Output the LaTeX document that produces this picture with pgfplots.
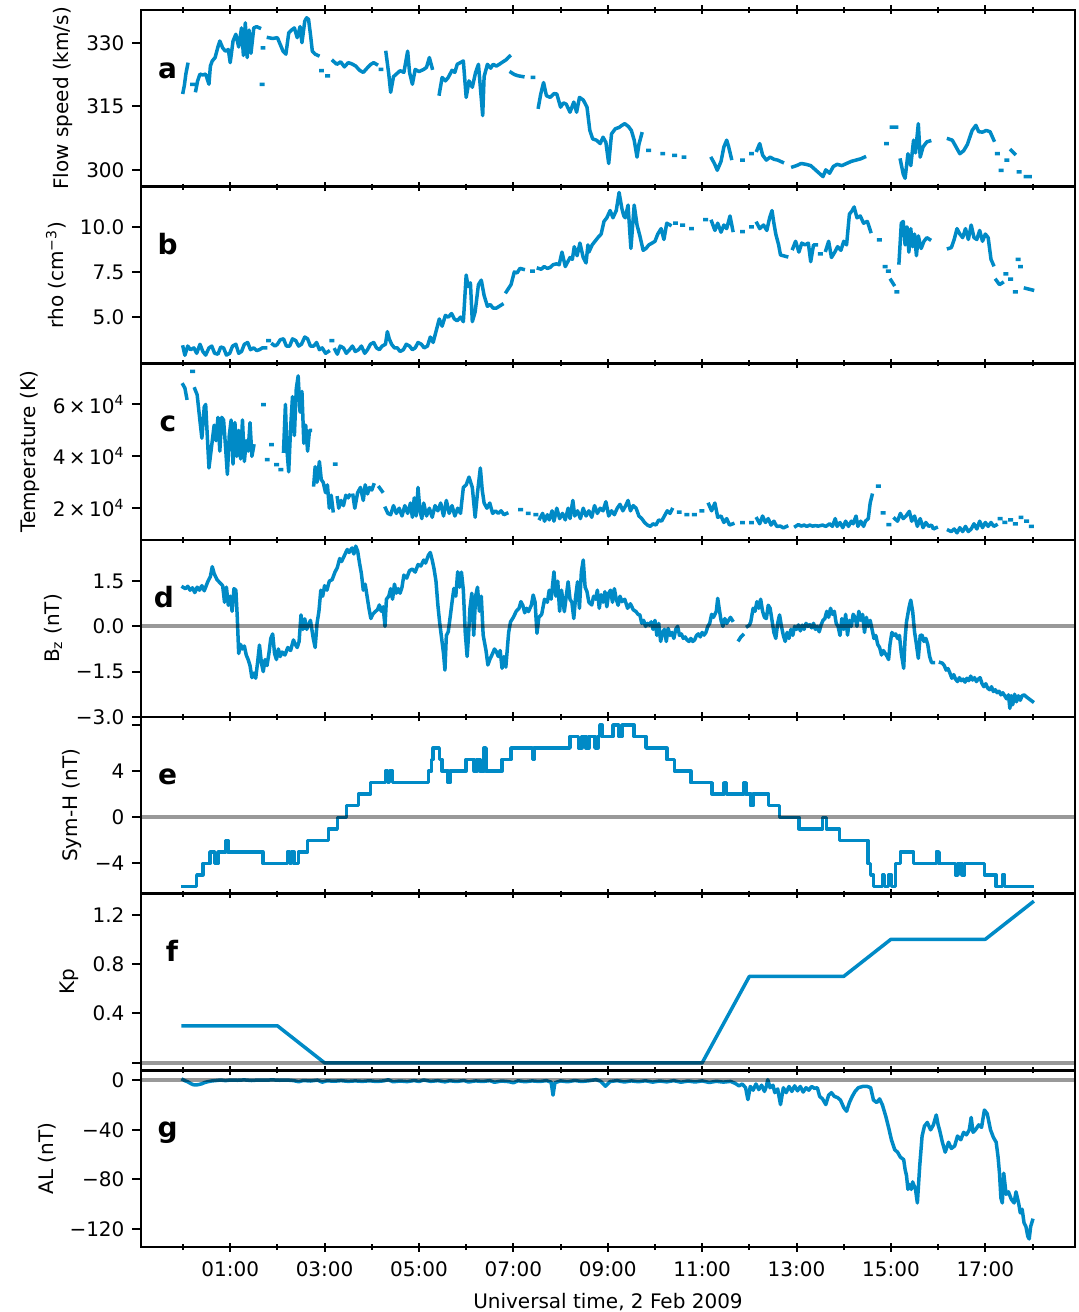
\documentclass[border=0pt]{standalone}
\usepackage{fontspec}
\setmainfont{DejaVu Sans}
\usepackage{pgfplots}
\pgfplotsset{compat=1.18}
\definecolor{lineblue}{RGB}{0,138,198}
\tikzset{letter/.style={font=\fontsize{14}{16}\selectfont\bfseries, anchor=base, inner sep=0pt}}
\pgfplotsset{
 panel/.style={
  scale only axis, width=467pt, height=88.357pt, anchor=south west,
  xmin=-0.89, xmax=18.9,
  xtick={1,3,...,17}, minor xtick={0,2,...,18},
  xticklabels={},
  xtick pos=both, ytick pos=left,
  tick align=center,
  major tick length=4.5pt, minor tick length=3pt,
  tick style={black, line width=1pt},
  y tick style={xshift=-2.25pt},
  yticklabel style={xshift=-2.5pt},
  xticklabel style={yshift=-1.5pt},
  axis line style={line width=1.3pt},
  tick label style={font=\fontsize{10}{12}\selectfont},
  label style={font=\fontsize{10}{12}\selectfont},
  /pgf/number format/assume math mode=true,
  unbounded coords=jump,
 },
 bl/.style={lineblue, line width=1.75pt, line join=round, line cap=rect, mark=none},
 zeroline/.style={black, opacity=0.4, line width=2pt, line cap=butt, mark=none},
}
\begin{document}
\begin{tikzpicture}
\useasboundingbox (0,0) rectangle (539.5pt,656pt);
% ---------------- a
\begin{axis}[panel, at={(70.5pt,562.643pt)}, ymin=296.02, ymax=337.73,
  ytick={300,315,330}, yticklabels={300,315,330}, ylabel={Flow speed (km/s)}]
\addplot[bl] coordinates {(0.00,318.3)(0.03,320.0)(0.06,322.6)(0.10,324.9)(0.11,nan)
(0.19,320.2)(0.22,320.2)(0.23,nan)
(0.27,318.7)(0.31,321.0)(0.36,322.6)(0.42,322.4)(0.48,322.6)(0.55,320.2)(0.58,324.5)(0.62,325.7)(0.68,326.5)(0.74,329.0)(0.78,330.4)(0.84,328.8)(0.90,328.0)(0.96,328.4)(1.00,325.3)(1.06,330.4)(1.12,332.0)(1.18,329.0)(1.24,333.5)(1.28,327.0)(1.32,334.7)(1.36,326.5)(1.40,333.0)(1.44,327.5)(1.50,333.5)(1.56,333.8)(1.62,333.5)(1.63,nan)
(1.68,328.8)(1.71,328.8)(1.72,nan)
(1.66,320.2)(1.69,320.2)(1.70,nan)
(1.81,331.2)(1.90,331.0)(2.00,331.2)(2.06,329.6)(2.12,328.0)(2.18,327.3)(2.24,332.3)(2.30,333.0)(2.36,333.5)(2.42,331.2)(2.48,333.8)(2.52,330.0)(2.58,335.1)(2.62,335.9)(2.66,335.5)(2.70,332.0)(2.74,328.0)(2.80,327.3)(2.86,327.0)(2.87,nan)
(2.92,323.4)(2.95,323.4)(2.96,nan)
(3.05,322.2)(3.08,322.2)(3.09,nan)
(3.18,325.7)(3.26,324.9)(3.34,325.5)(3.42,324.3)(3.50,325.3)(3.58,325.0)(3.66,324.5)(3.74,323.5)(3.82,323.0)(3.90,324.0)(3.98,324.9)(4.04,325.3)(4.10,324.9)(4.11,nan)
(4.18,323.7)(4.21,323.7)(4.22,nan)
(4.30,327.7)(4.36,322.6)(4.40,318.3)(4.46,322.0)(4.52,322.6)(4.60,323.4)(4.68,323.0)(4.76,328.0)(4.80,323.0)(4.86,320.2)(4.92,323.7)(5.00,323.2)(5.10,323.7)(5.16,324.2)(5.22,326.5)(5.28,324.0)(5.29,nan)
(5.43,317.9)(5.49,321.8)(5.56,321.0)(5.62,321.8)(5.70,323.5)(5.76,323.0)(5.81,324.9)(5.94,325.7)(6.00,317.1)(6.06,321.0)(6.13,319.5)(6.20,323.0)(6.26,324.9)(6.35,312.8)(6.38,322.0)(6.45,324.9)(6.52,324.0)(6.57,324.9)(6.64,324.5)(6.70,324.9)(6.78,325.5)(6.85,326.0)(6.89,326.5)(6.92,326.8)(6.93,nan)
(6.95,323.0)(7.02,322.5)(7.10,322.2)(7.20,322.0)(7.21,nan)
(7.40,321.8)(7.43,321.8)(7.44,nan)
(7.53,314.8)(7.58,317.9)(7.64,320.6)(7.70,317.5)(7.78,317.1)(7.86,318.0)(7.92,317.9)(8.00,314.8)(8.06,315.8)(8.12,315.5)(8.20,313.6)(8.28,316.0)(8.34,313.6)(8.40,317.1)(8.48,316.5)(8.56,314.8)(8.62,309.3)(8.68,307.3)(8.76,307.0)(8.84,306.2)(8.90,307.7)(8.96,306.5)(9.02,301.5)(9.08,308.5)(9.16,309.7)(9.24,310.0)(9.30,310.5)(9.36,310.9)(9.44,310.2)(9.50,309.3)(9.56,307.0)(9.62,303.0)(9.66,306.0)(9.72,308.5)(9.73,nan)
(9.85,304.6)(9.88,304.6)(9.89,nan)
(10.15,303.8)(10.18,303.8)(10.19,nan)
(10.40,303.4)(10.43,303.4)(10.44,nan)
(10.60,303.0)(10.63,303.0)(10.64,nan)
(11.20,302.7)(11.26,301.5)(11.32,299.9)(11.40,302.0)(11.46,305.4)(11.52,307.0)(11.56,305.5)(11.62,302.7)(11.63,nan)
(11.84,302.3)(11.87,302.3)(11.88,nan)
(12.03,303.8)(12.06,303.8)(12.07,nan)
(12.16,304.6)(12.22,306.2)(12.28,303.5)(12.36,302.3)(12.44,303.0)(12.52,302.5)(12.60,302.3)(12.70,301.8)(12.71,nan)
(12.92,300.7)(13.00,301.0)(13.10,301.5)(13.20,301.3)(13.30,301.0)(13.40,300.0)(13.50,299.0)(13.56,298.4)(13.62,300.0)(13.70,299.2)(13.78,300.8)(13.86,301.3)(13.96,301.0)(14.06,301.5)(14.16,302.0)(14.26,302.3)(14.36,302.6)(14.44,303.0)(14.45,nan)
(14.89,306.2)(14.92,306.2)(14.93,nan)
(15.01,310.1)(15.12,310.1)(15.13,nan)
(15.20,302.3)(15.26,299.0)(15.30,298.0)(15.36,303.8)(15.42,301.0)(15.48,307.0)(15.52,304.0)(15.58,310.9)(15.62,303.0)(15.68,305.4)(15.76,306.6)(15.82,306.8)(15.83,nan)
(16.22,307.3)(16.30,307.0)(16.38,305.4)(16.46,303.8)(16.54,304.5)(16.62,306.0)(16.72,309.3)(16.80,310.5)(16.86,309.0)(16.94,308.9)(17.02,309.3)(17.10,309.0)(17.18,307.0)(17.19,nan)
(17.24,303.8)(17.27,303.8)(17.28,nan)
(17.32,299.9)(17.35,299.9)(17.36,nan)
(17.44,302.3)(17.47,302.3)(17.48,nan)
(17.55,304.6)(17.62,303.8)(17.63,nan)
(17.70,299.5)(17.73,299.5)(17.74,nan)
(17.85,298.4)(17.95,298.4)};
\node[letter] at (axis description cs:0.0284,0.615) {a};
\end{axis}
% ---------------- b
\begin{axis}[panel, at={(70.5pt,474.286pt)}, ymin=2.44, ymax=12.22,
  ytick={5,7.5,10}, yticklabels={5.0,7.5,10.0}, ylabel={rho (cm\textsuperscript{−3})}]
\addplot[bl] coordinates {(0.00,3.35)(0.04,2.89)(0.10,3.4)(0.16,3.2)(0.23,3.3)(0.29,3.0)(0.36,3.5)(0.42,3.1)(0.48,2.9)(0.55,3.3)(0.61,3.4)(0.67,3.0)(0.74,2.95)(0.80,3.35)(0.86,3.3)(0.92,2.9)(0.99,3.0)(1.05,3.4)(1.12,3.5)(1.18,3.0)(1.24,3.1)(1.30,3.5)(1.37,3.6)(1.43,3.2)(1.50,3.3)(1.56,3.15)(1.62,3.2)(1.68,3.3)(1.75,3.3)(1.76,nan)
(1.80,3.7)(1.83,3.7)(1.84,nan)
(1.90,3.5)(1.95,3.4)(2.00,3.5)(2.06,3.75)(2.13,3.8)(2.19,3.4)(2.26,3.4)(2.32,3.8)(2.39,3.7)(2.45,3.4)(2.51,3.5)(2.58,3.9)(2.64,3.8)(2.70,3.4)(2.77,3.4)(2.83,3.6)(2.89,3.2)(2.95,3.3)(3.02,3.0)(3.08,3.1)(3.09,nan)
(3.14,3.7)(3.17,3.7)(3.18,nan)
(3.22,3.2)(3.27,2.95)(3.33,3.4)(3.40,3.3)(3.46,3.0)(3.53,3.2)(3.59,3.4)(3.65,3.1)(3.72,3.2)(3.78,3.4)(3.85,3.0)(3.91,3.2)(3.97,3.5)(4.04,3.6)(4.10,3.3)(4.16,3.2)(4.22,3.4)(4.29,3.5)(4.33,4.2)(4.37,3.8)(4.42,3.5)(4.48,3.3)(4.54,3.3)(4.60,3.1)(4.67,3.2)(4.73,3.5)(4.80,3.4)(4.86,3.2)(4.92,3.3)(4.98,3.6)(5.05,3.5)(5.11,3.3)(5.18,3.4)(5.24,3.9)(5.30,3.6)(5.37,4.3)(5.43,4.9)(5.49,4.5)(5.56,5.1)(5.62,5.0)(5.69,5.2)(5.75,4.9)(5.81,4.8)(5.88,5.0)(5.94,4.75)(6.00,7.33)(6.04,6.7)(6.09,6.9)(6.13,4.75)(6.19,5.3)(6.26,6.8)(6.32,7.05)(6.38,6.2)(6.45,5.6)(6.51,5.7)(6.57,5.5)(6.64,5.5)(6.70,5.6)(6.76,5.7)(6.77,nan)
(6.85,6.4)(6.90,6.6)(6.95,6.8)(7.02,7.5)(7.08,7.45)(7.14,7.7)(7.21,7.65)(7.22,nan)
(7.39,7.55)(7.42,7.55)(7.43,nan)
(7.53,7.7)(7.59,7.65)(7.65,7.8)(7.72,7.7)(7.78,7.75)(7.84,7.9)(7.91,7.95)(7.97,7.9)(8.03,8.6)(8.10,7.8)(8.16,8.1)(8.20,8.3)(8.25,8.2)(8.29,8.9)(8.35,8.4)(8.41,9.1)(8.48,8.3)(8.54,8.0)(8.58,9.0)(8.60,8.6)(8.67,9.0)(8.73,9.2)(8.79,9.4)(8.86,9.6)(8.92,10.3)(8.98,10.5)(9.05,10.9)(9.11,10.5)(9.18,10.9)(9.24,11.9)(9.30,11.0)(9.34,10.6)(9.37,10.5)(9.43,11.2)(9.49,8.8)(9.56,11.2)(9.62,10.1)(9.68,9.5)(9.75,8.7)(9.81,8.8)(9.87,9.0)(9.94,9.1)(10.00,9.2)(10.06,9.6)(10.13,9.9)(10.19,9.3)(10.25,10.2)(10.32,10.1)(10.33,nan)
(10.42,10.2)(10.45,10.2)(10.46,nan)
(10.57,10.1)(10.60,10.1)(10.61,nan)
(10.76,9.9)(10.79,9.9)(10.80,nan)
(11.06,10.4)(11.09,10.4)(11.10,nan)
(11.20,10.3)(11.27,9.8)(11.33,10.2)(11.40,9.7)(11.46,10.1)(11.52,9.9)(11.59,10.6)(11.65,9.8)(11.66,nan)
(11.84,9.74)(11.87,9.74)(11.88,nan)
(12.03,10.0)(12.06,10.0)(12.07,nan)
(12.16,10.2)(12.22,9.9)(12.30,10.1)(12.37,9.8)(12.43,10.5)(12.48,10.9)(12.52,10.2)(12.56,9.6)(12.62,9.0)(12.66,8.44)(12.79,8.35)(12.80,nan)
(12.92,8.8)(12.98,9.2)(13.05,8.6)(13.11,9.1)(13.18,9.0)(13.25,9.1)(13.30,8.07)(13.36,9.0)(13.42,9.0)(13.43,nan)
(13.49,8.5)(13.52,8.5)(13.53,nan)
(13.62,8.7)(13.68,9.2)(13.74,8.3)(13.81,8.6)(13.87,8.9)(13.94,8.7)(14.00,9.2)(14.06,9.0)(14.12,10.7)(14.18,10.9)(14.22,11.1)(14.28,10.5)(14.35,10.6)(14.42,10.2)(14.50,10.3)(14.57,9.74)(14.58,nan)
(14.74,9.28)(14.77,9.28)(14.78,nan)
(14.86,7.8)(14.89,7.8)(14.90,nan)
(14.93,7.55)(14.96,7.55)(14.97,nan)
(15.00,7.05)(15.06,6.8)(15.07,nan)
(15.11,6.4)(15.14,6.4)(15.15,nan)
(15.17,8.0)(15.22,10.2)(15.26,10.3)(15.30,9.0)(15.34,10.0)(15.38,8.6)(15.42,9.9)(15.46,8.9)(15.50,9.6)(15.54,8.4)(15.58,9.5)(15.64,8.8)(15.70,9.2)(15.76,9.4)(15.82,9.3)(15.83,nan)
(16.22,8.8)(16.28,8.85)(16.34,9.3)(16.40,9.9)(16.46,9.6)(16.52,9.4)(16.58,9.9)(16.64,9.3)(16.70,10.1)(16.76,9.4)(16.82,9.3)(16.88,9.8)(16.94,9.2)(17.00,9.6)(17.06,9.4)(17.12,8.2)(17.17,7.9)(17.18,nan)
(17.23,7.05)(17.30,6.8)(17.36,6.9)(17.37,nan)
(17.42,7.4)(17.45,7.4)(17.46,nan)
(17.52,7.1)(17.55,7.1)(17.56,nan)
(17.62,6.4)(17.65,6.4)(17.66,nan)
(17.68,8.2)(17.71,8.2)(17.72,nan)
(17.73,7.8)(17.76,7.8)(17.77,nan)
(17.85,6.6)(18.00,6.5)};
\node[letter] at (axis description cs:0.0284,0.615) {b};
\end{axis}
% ---------------- c (values in units of 10^4 K)
\begin{axis}[panel, at={(70.5pt,385.929pt)}, ymin=0.77, ymax=7.58,
  ytick={2,4,6}, yticklabels={2\,×\,10\textsuperscript{4},4\,×\,10\textsuperscript{4},6\,×\,10\textsuperscript{4}}, ylabel={Temperature (K)}]
\addplot[bl] coordinates {(0.00,6.76)(0.04,6.63)(0.08,6.24)(0.09,nan)
(0.19,7.27)(0.22,7.27)(0.23,nan)
(0.25,6.6)(0.30,6.37)(0.36,5.35)(0.40,4.7)(0.45,5.9)(0.48,6.0)(0.55,3.55)(0.61,4.45)(0.66,5.2)(0.70,4.6)(0.74,5.5)(0.78,4.2)(0.82,5.5)(0.86,5.4)(0.90,4.4)(0.94,3.3)(0.98,4.8)(1.02,5.4)(1.06,3.7)(1.10,5.3)(1.14,4.0)(1.18,5.0)(1.22,3.9)(1.26,5.4)(1.30,3.8)(1.34,4.6)(1.38,4.2)(1.42,5.3)(1.46,4.0)(1.50,4.4)(1.51,nan)
(1.69,5.99)(1.72,5.99)(1.73,nan)
(1.77,3.87)(1.80,3.87)(1.81,nan)
(1.86,4.45)(1.89,4.45)(1.90,nan)
(1.97,3.68)(2.00,3.68)(2.01,nan)
(2.06,3.49)(2.09,3.49)(2.10,nan)
(2.13,4.2)(2.17,6.0)(2.20,4.3)(2.24,3.4)(2.28,5.1)(2.32,6.3)(2.36,4.8)(2.40,6.6)(2.44,7.1)(2.48,5.7)(2.52,6.5)(2.56,4.5)(2.60,5.2)(2.64,4.2)(2.68,5.0)(2.70,5.0)(2.71,nan)
(2.77,2.9)(2.80,3.6)(2.84,3.0)(2.89,3.8)(2.93,3.1)(2.97,3.0)(3.02,2.6)(3.06,2.9)(3.10,2.0)(3.14,2.5)(3.18,1.9)(3.19,nan)
(3.21,3.7)(3.24,3.7)(3.25,nan)
(3.27,2.4)(3.30,2.0)(3.35,2.3)(3.40,2.1)(3.45,2.5)(3.50,2.4)(3.53,2.5)(3.54,nan)
(3.60,2.5)(3.64,2.0)(3.70,2.6)(3.76,2.8)(3.82,2.3)(3.86,2.9)(3.91,2.55)(3.95,2.8)(4.00,2.7)(4.04,2.9)(4.05,nan)
(4.16,2.8)(4.22,2.65)(4.23,nan)
(4.29,2.0)(4.34,1.8)(4.40,1.75)(4.46,2.1)(4.52,1.8)(4.58,2.0)(4.64,1.7)(4.70,2.1)(4.76,1.8)(4.82,2.2)(4.86,1.65)(4.90,2.4)(4.94,1.7)(4.98,2.8)(5.02,1.9)(5.06,1.6)(5.10,2.2)(5.16,1.7)(5.22,2.0)(5.28,1.65)(5.34,2.1)(5.40,1.9)(5.46,2.2)(5.52,1.7)(5.58,2.3)(5.64,1.8)(5.70,2.1)(5.76,1.7)(5.82,2.0)(5.88,1.8)(5.94,2.8)(6.00,2.9)(6.06,3.2)(6.13,2.8)(6.19,1.65)(6.24,2.6)(6.30,3.55)(6.34,2.7)(6.38,2.2)(6.44,2.0)(6.50,2.2)(6.56,1.8)(6.62,1.9)(6.68,1.8)(6.74,1.9)(6.80,1.75)(6.86,1.8)(6.87,nan)
(7.14,1.95)(7.17,1.95)(7.18,nan)
(7.30,1.8)(7.33,1.8)(7.34,nan)
(7.46,1.75)(7.49,1.75)(7.50,nan)
(7.56,1.6)(7.62,1.8)(7.66,1.5)(7.72,1.75)(7.76,1.55)(7.82,1.9)(7.86,1.5)(7.92,2.0)(7.98,1.6)(8.04,1.8)(8.10,1.55)(8.16,2.0)(8.20,1.6)(8.26,2.3)(8.30,1.7)(8.36,1.9)(8.42,1.6)(8.48,2.0)(8.54,1.7)(8.60,1.9)(8.66,1.65)(8.72,2.1)(8.78,1.8)(8.84,2.0)(8.90,1.9)(8.96,2.25)(9.02,1.7)(9.08,1.9)(9.14,1.75)(9.20,2.0)(9.26,2.15)(9.32,1.9)(9.38,2.1)(9.43,2.3)(9.48,1.9)(9.54,2.1)(9.60,2.0)(9.66,1.7)(9.72,1.6)(9.78,1.45)(9.84,1.35)(9.90,1.3)(9.96,1.4)(10.02,1.35)(10.08,1.55)(10.14,1.5)(10.20,1.7)(10.26,1.9)(10.32,1.8)(10.36,1.95)(10.37,nan)
(10.50,1.85)(10.53,1.85)(10.54,nan)(10.66,1.75)(10.69,1.75)(10.70,nan)(10.82,1.75)(10.85,1.75)(10.86,nan)(10.98,1.9)(11.01,1.9)(11.02,nan)
(11.14,2.15)(11.20,1.9)(11.27,2.2)(11.33,1.65)(11.40,1.7)(11.46,1.45)(11.52,1.6)(11.58,1.35)(11.65,1.4)(11.66,nan)
(11.84,1.44)(11.87,1.44)(11.88,nan)(12.03,1.44)(12.06,1.44)(12.07,nan)
(12.16,1.6)(12.22,1.4)(12.28,1.7)(12.34,1.45)(12.40,1.6)(12.46,1.35)(12.52,1.5)(12.58,1.3)(12.66,1.31)(12.72,1.24)(12.79,1.3)(12.80,nan)
(12.98,1.3)(13.04,1.37)(13.10,1.31)(13.16,1.35)(13.22,1.3)(13.28,1.35)(13.34,1.31)(13.40,1.33)(13.46,1.31)(13.55,1.35)(13.62,1.3)(13.70,1.4)(13.76,1.3)(13.82,1.6)(13.86,1.3)(13.92,1.45)(13.98,1.25)(14.04,1.5)(14.10,1.3)(14.16,1.5)(14.20,1.4)(14.26,1.7)(14.30,1.3)(14.36,1.5)(14.42,1.3)(14.46,1.5)(14.52,1.6)(14.56,2.2)(14.60,2.5)(14.61,nan)
(14.72,2.85)(14.75,2.85)(14.76,nan)(14.82,1.82)(14.85,1.82)(14.86,nan)(14.94,1.37)(14.97,1.37)(14.98,nan)
(15.08,1.6)(15.14,1.5)(15.20,1.8)(15.26,1.6)(15.32,1.7)(15.39,1.88)(15.44,1.5)(15.50,1.7)(15.56,1.3)(15.62,1.6)(15.68,1.25)(15.74,1.45)(15.80,1.3)(15.86,1.35)(15.90,1.2)(15.96,1.25)(15.97,nan)
(16.22,1.15)(16.28,1.1)(16.34,1.2)(16.40,1.05)(16.46,1.25)(16.52,1.1)(16.58,1.3)(16.64,1.1)(16.70,1.2)(16.76,1.4)(16.82,1.2)(16.88,1.5)(16.94,1.25)(17.00,1.45)(17.06,1.3)(17.12,1.45)(17.18,1.3)(17.23,1.35)(17.24,nan)
(17.30,1.6)(17.33,1.6)(17.34,nan)(17.40,1.45)(17.43,1.45)(17.44,nan)(17.52,1.55)(17.55,1.55)(17.56,nan)(17.62,1.4)(17.65,1.4)(17.66,nan)(17.74,1.65)(17.77,1.65)(17.78,nan)(17.86,1.5)(17.89,1.5)(17.90,nan)(17.96,1.3)(17.99,1.3)};
\node[letter] at (axis description cs:0.0289,0.615) {c};
\end{axis}
% ---------------- d
\begin{axis}[panel, at={(70.5pt,297.571pt)}, ymin=-3.0, ymax=2.86,
  ytick={-3,-1.5,0,1.5}, yticklabels={−3.0,−1.5,0.0,1.5}, ylabel={B\textsubscript{z} (nT)}]
\addplot[bl] coordinates {(0.0,1.3)(0.05,1.25)(0.10,1.33)(0.15,1.2)(0.20,1.28)(0.25,1.12)(0.30,1.3)(0.35,1.2)(0.40,1.35)(0.45,1.18)(0.48,1.3)(0.53,1.5)(0.58,1.65)(0.62,1.98)(0.66,1.75)(0.72,1.55)(0.78,1.45)(0.84,1.35)(0.88,0.8)(0.92,1.3)(0.96,0.7)(1.00,1.0)(1.04,0.5)(1.08,1.25)(1.12,1.2)(1.15,0.3)(1.18,-0.9)(1.22,-0.6)(1.26,-0.75)(1.30,-0.65)(1.34,-0.95)(1.38,-1.1)(1.42,-1.3)(1.46,-1.7)(1.50,-1.55)(1.54,-1.72)(1.58,-1.2)(1.62,-0.62)(1.66,-1.2)(1.70,-1.5)(1.74,-1.1)(1.78,-1.3)(1.82,-0.9)(1.86,-0.4)(1.90,-0.25)(1.94,-0.9)(1.98,-1.1)(2.02,-0.75)(2.06,-1.0)(2.10,-0.85)(2.16,-0.95)(2.22,-0.7)(2.28,-0.8)(2.34,-0.45)(2.38,-0.6)(2.42,-0.7)(2.46,-0.5)(2.50,0.38)(2.54,-0.1)(2.58,0.25)(2.62,-0.1)(2.66,0.05)(2.70,0.2)(2.76,-0.4)(2.80,-0.7)(2.84,0.1)(2.88,0.5)(2.92,1.2)(2.96,1.0)(3.00,1.35)(3.05,1.2)(3.10,1.5)(3.16,1.55)(3.22,1.8)(3.27,1.95)(3.32,2.25)(3.36,2.15)(3.42,2.35)(3.48,2.55)(3.52,2.45)(3.58,2.6)(3.62,2.4)(3.66,2.66)(3.70,2.5)(3.74,2.1)(3.78,1.75)(3.82,1.2)(3.86,1.4)(3.90,1.0)(3.94,0.6)(3.98,0.26)(4.02,0.4)(4.08,0.5)(4.12,0.55)(4.16,0.71)(4.20,0.5)(4.24,0.65)(4.28,0.0)(4.31,0.9)(4.36,1.0)(4.40,1.25)(4.44,0.9)(4.48,1.4)(4.52,1.1)(4.56,1.25)(4.60,1.1)(4.64,1.3)(4.68,1.7)(4.74,1.6)(4.80,1.85)(4.86,1.9)(4.92,1.8)(4.98,2.05)(5.04,2.0)(5.10,2.2)(5.14,2.1)(5.20,2.36)(5.24,2.45)(5.28,2.2)(5.32,1.9)(5.36,1.5)(5.40,0.71)(5.44,0.1)(5.48,-0.4)(5.52,-0.9)(5.55,-1.45)(5.58,-0.3)(5.62,-0.18)(5.66,0.3)(5.70,0.8)(5.74,1.26)(5.78,1.0)(5.82,1.81)(5.86,1.3)(5.90,1.8)(5.94,1.2)(5.98,-0.2)(6.02,-1.0)(6.05,-0.3)(6.08,0.6)(6.12,1.1)(6.16,-0.3)(6.20,1.0)(6.24,1.3)(6.28,0.5)(6.32,1.0)(6.36,-0.29)(6.42,-0.8)(6.46,-1.28)(6.50,-1.1)(6.56,-0.9)(6.60,-0.75)(6.64,-0.84)(6.68,-1.0)(6.72,-0.8)(6.76,-1.39)(6.80,-1.0)(6.84,-1.35)(6.90,-0.2)(6.94,0.15)(7.00,0.3)(7.06,0.5)(7.12,0.6)(7.16,0.82)(7.20,0.7)(7.24,0.45)(7.28,0.6)(7.32,0.49)(7.38,0.7)(7.42,1.04)(7.46,0.8)(7.50,-0.23)(7.54,0.3)(7.60,0.4)(7.66,0.9)(7.72,0.8)(7.76,1.2)(7.80,0.9)(7.86,1.81)(7.90,1.0)(7.94,1.5)(7.98,0.5)(8.02,1.2)(8.08,0.49)(8.12,1.0)(8.16,1.48)(8.20,0.9)(8.24,0.8)(8.28,0.26)(8.32,1.0)(8.36,1.48)(8.40,0.6)(8.44,1.8)(8.48,2.2)(8.52,1.3)(8.56,1.15)(8.60,0.8)(8.66,0.71)(8.70,1.0)(8.74,0.9)(8.78,1.2)(8.82,0.6)(8.86,1.05)(8.90,0.8)(8.94,1.15)(8.98,0.65)(9.02,1.1)(9.06,1.2)(9.10,0.8)(9.14,1.25)(9.18,0.9)(9.22,0.7)(9.26,1.0)(9.30,0.82)(9.36,0.9)(9.42,0.6)(9.48,0.75)(9.54,0.55)(9.60,0.49)(9.64,0.4)(9.68,0.38)(9.72,0.1)(9.76,0.2)(9.80,0.0)(9.84,0.1)(9.88,0.04)(9.92,0.15)(9.96,-0.1)(10.00,0.2)(10.04,-0.3)(10.08,0.1)(10.12,-0.5)(10.16,-0.2)(10.20,-0.1)(10.24,-0.5)(10.28,-0.07)(10.32,-0.3)(10.36,-0.2)(10.40,-0.4)(10.44,-0.1)(10.48,0.0)(10.52,-0.3)(10.56,-0.25)(10.60,-0.4)(10.64,-0.35)(10.68,-0.45)(10.72,-0.5)(10.76,-0.4)(10.80,-0.5)(10.84,-0.45)(10.88,-0.3)(10.92,-0.25)(10.96,-0.35)(11.00,-0.2)(11.04,-0.29)(11.08,-0.2)(11.12,0.0)(11.16,0.1)(11.20,0.4)(11.24,0.3)(11.30,0.5)(11.33,0.93)(11.36,0.6)(11.40,0.2)(11.44,0.0)(11.48,0.26)(11.52,0.1)(11.56,0.2)(11.60,0.3)(11.64,0.2)(11.65,nan)
(11.78,-0.45)(11.82,-0.35)(11.86,-0.29)(11.87,nan)
(11.96,0.0)(12.00,0.04)(12.03,0.15)(12.08,0.6)(12.12,0.5)(12.16,0.82)(12.20,0.6)(12.24,0.9)(12.28,0.5)(12.32,0.3)(12.36,0.26)(12.40,0.7)(12.44,0.6)(12.48,0.2)(12.52,-0.2)(12.56,-0.4)(12.60,0.1)(12.64,0.38)(12.68,0.0)(12.72,-0.3)(12.76,-0.5)(12.80,-0.2)(12.84,-0.4)(12.88,-0.1)(12.92,-0.3)(12.96,0.0)(13.00,-0.1)(13.04,0.05)(13.08,-0.15)(13.12,0.04)(13.16,-0.1)(13.20,0.1)(13.24,0.0)(13.28,0.06)(13.32,-0.05)(13.36,0.1)(13.40,-0.1)(13.44,0.0)(13.48,-0.18)(13.52,0.05)(13.56,0.2)(13.60,0.26)(13.64,0.5)(13.68,0.3)(13.72,0.6)(13.76,0.4)(13.80,0.5)(13.84,0.1)(13.88,0.0)(13.92,-0.3)(13.96,0.26)(14.00,-0.1)(14.04,0.4)(14.08,-0.29)(14.12,0.2)(14.16,0.0)(14.20,0.4)(14.24,0.3)(14.28,0.0)(14.32,0.5)(14.36,0.2)(14.40,0.4)(14.44,-0.2)(14.48,0.3)(14.52,0.0)(14.56,0.2)(14.60,-0.1)(14.64,-0.4)(14.68,-0.3)(14.72,-0.6)(14.76,-0.7)(14.80,-0.95)(14.84,-0.8)(14.88,-0.9)(14.92,-1.0)(14.95,-1.1)(14.98,-0.6)(15.02,-0.2)(15.06,-0.3)(15.10,-0.25)(15.14,-0.4)(15.18,-0.3)(15.22,-0.9)(15.27,-1.39)(15.30,-0.4)(15.33,0.15)(15.38,0.6)(15.42,0.87)(15.46,0.5)(15.50,-0.18)(15.54,-0.6)(15.58,-1.06)(15.62,-0.3)(15.66,-0.29)(15.70,-0.5)(15.74,-0.4)(15.78,-0.6)(15.82,-1.0)(15.86,-1.2)(15.90,-1.2)(15.91,nan)
(16.05,-1.2)(16.09,-1.22)(16.13,-1.3)(16.17,-1.45)(16.21,-1.4)(16.25,-1.55)(16.29,-1.72)(16.33,-1.6)(16.37,-1.75)(16.41,-1.83)(16.45,-1.7)(16.49,-1.8)(16.53,-1.75)(16.57,-1.85)(16.61,-1.72)(16.65,-1.8)(16.69,-1.65)(16.73,-1.78)(16.77,-1.7)(16.81,-1.83)(16.85,-1.75)(16.89,-1.7)(16.93,-1.9)(16.97,-2.0)(17.01,-1.9)(17.05,-2.05)(17.09,-2.1)(17.13,-2.0)(17.17,-2.16)(17.21,-2.1)(17.25,-2.2)(17.29,-2.15)(17.33,-2.27)(17.37,-2.2)(17.41,-2.3)(17.45,-2.4)(17.49,-2.27)(17.52,-2.72)(17.55,-2.3)(17.58,-2.6)(17.62,-2.25)(17.66,-2.5)(17.70,-2.3)(17.74,-2.45)(17.78,-2.3)(17.82,-2.27)(17.88,-2.35)(17.94,-2.42)(18.00,-2.49)};
\addplot[zeroline] coordinates {(-1,0)(19,0)};
\node[letter] at (axis description cs:0.0246,0.62) {d};
\end{axis}
% ---------------- e
\begin{axis}[panel, at={(70.5pt,209.214pt)}, ymin=-6.61, ymax=8.70,
  ytick={-4,0,4,8}, yticklabels={−4,0,4,}, ylabel={Sym-H (nT)}]
\addplot[bl, const plot mark left] coordinates {(0.00,-6)(0.29,-5)(0.42,-4)(0.57,-3)(0.67,-4)(0.74,-3)(0.90,-2)(0.95,-3)(1.69,-4)(2.21,-3)(2.26,-4)(2.30,-3)(2.35,-4)(2.45,-3)(2.64,-2)(3.08,-1)(3.27,0)(3.46,1)(3.72,2)(3.97,3)(4.29,4)(4.33,3)(4.38,4)(4.44,3)(5.20,4)(5.27,5)(5.30,6)(5.43,5)(5.49,4)(5.62,3)(5.66,4)(6.00,5)(6.17,4)(6.23,5)(6.29,4)(6.38,6)(6.42,4)(6.76,5)(6.95,6)(7.40,5)(7.44,6)(8.20,7)(8.38,6)(8.45,7)(8.54,6)(8.60,7)(8.73,6)(8.79,7)(8.83,8)(8.88,7)(9.11,8)(9.24,7)(9.30,8)(9.56,7)(9.81,6)(10.25,5)(10.41,4)(10.76,3)(11.21,2)(11.46,3)(11.52,2)(11.88,3)(11.93,2)(12.03,1)(12.08,2)(12.41,1)(12.64,0)(13.05,-1)(13.55,0)(13.63,-1)(13.91,-2)(14.51,-4)(14.57,-5)(14.63,-6)(14.82,-5)(14.86,-6)(14.95,-5)(15.01,-6)(15.10,-4)(15.20,-3)(15.48,-4)(15.96,-3)(16.02,-4)(16.37,-5)(16.42,-4)(16.51,-5)(16.56,-4)(16.98,-5)(17.23,-6)(17.36,-5)(17.41,-6)(18.00,-6)};
\addplot[zeroline] coordinates {(-1,0)(19,0)};
\node[letter] at (axis description cs:0.0284,0.615) {e};
\end{axis}
% ---------------- f
\begin{axis}[panel, at={(70.5pt,120.857pt)}, ymin=-0.06, ymax=1.37,
  ytick={0,0.4,0.8,1.2}, yticklabels={,0.4,0.8,1.2}, ylabel={Kp}]
\addplot[bl] coordinates {(0,0.3)(2,0.3)(3,0)(11,0)(12,0.7)(14,0.7)(15,1.0)(17,1.0)(18,1.3)};
\addplot[zeroline] coordinates {(-1,0)(19,0)};
\node[letter] at (axis description cs:0.0332,0.615) {f};
\end{axis}
% ---------------- g
\begin{axis}[panel, at={(70.5pt,32.5pt)}, ymin=-134.5, ymax=8.05,
  ytick={-120,-80,-40,0}, yticklabels={−120,−80,−40,0}, ylabel={AL (nT)},
  xticklabels={01:00,03:00,05:00,07:00,09:00,11:00,13:00,15:00,17:00},
  xlabel={Universal time, 2 Feb 2009}, xlabel style={yshift=-1.5pt}]
\addplot[bl] coordinates {(0.00,0.5)(0.05,-0.5)(0.10,-1.2)(0.16,-2.6)(0.22,-3.6)(0.28,-3.8)(0.34,-3.4)(0.40,-2.8)(0.46,-1.8)(0.52,-1.2)(0.60,-0.6)(0.70,-0.2)(0.80,0.2)(0.90,-0.3)(1.00,0.2)(1.15,0.0)(1.30,0.3)(1.45,-0.2)(1.60,0.2)(1.75,0.1)(1.90,0.3)(2.05,0.0)(2.20,0.2)(2.35,-0.3)(2.45,-1.2)(2.55,-0.2)(2.70,-0.6)(2.85,0.1)(2.95,-1.5)(3.05,-0.4)(3.20,-0.8)(3.35,-0.3)(3.50,-0.9)(3.65,-0.5)(3.80,-0.9)(3.95,-0.4)(4.10,-1.0)(4.25,-0.5)(4.35,0.4)(4.45,-1.2)(4.60,-0.6)(4.75,-1.1)(4.90,-0.2)(5.00,-1.0)(5.10,0.2)(5.25,-0.9)(5.40,-0.3)(5.55,-1.3)(5.65,-0.4)(5.80,-1.0)(5.95,-0.2)(6.05,-1.4)(6.20,-0.5)(6.35,-1.0)(6.50,-0.3)(6.60,-1.6)(6.75,-0.6)(6.90,-1.1)(7.00,-2.0)(7.10,-0.4)(7.25,-1.2)(7.40,-0.5)(7.55,-1.0)(7.70,-0.3)(7.80,-1.5)(7.84,-12.0)(7.88,-2.0)(8.00,-0.5)(8.15,-1.2)(8.30,-0.2)(8.45,-1.0)(8.60,-0.4)(8.75,0.5)(8.85,-0.8)(8.95,-4.8)(9.05,-1.0)(9.20,-0.3)(9.35,-1.4)(9.50,-0.5)(9.65,-1.2)(9.80,-0.4)(9.95,-1.5)(10.10,-0.6)(10.25,-1.3)(10.40,-0.3)(10.55,-1.6)(10.70,-0.6)(10.85,-1.4)(11.00,-0.5)(11.15,-1.8)(11.30,-0.8)(11.45,-1.5)(11.60,-0.9)(11.70,-2.5)(11.78,-4.5)(11.85,-3.0)(11.92,-6.0)(11.97,-15.6)(12.02,-5.0)(12.08,-8.0)(12.14,-3.0)(12.20,-7.5)(12.26,-4.0)(12.32,-9.0)(12.36,-5.0)(12.39,0.5)(12.44,-6.0)(12.50,-4.0)(12.54,-10.0)(12.60,-7.0)(12.66,-19.6)(12.72,-6.0)(12.78,-10.0)(12.84,-5.0)(12.90,-9.0)(12.96,-4.5)(13.02,-8.5)(13.08,-5.0)(13.14,-9.5)(13.20,-6.0)(13.26,-8.0)(13.32,-5.0)(13.38,-6.5)(13.44,-6.0)(13.49,-13.0)(13.55,-15.0)(13.62,-19.6)(13.68,-12.0)(13.74,-10.0)(13.80,-13.0)(13.87,-14.0)(13.93,-16.0)(14.00,-22.0)(14.06,-25.0)(14.12,-18.0)(14.18,-13.0)(14.24,-9.0)(14.31,-6.0)(14.40,-5.0)(14.50,-5.0)(14.57,-6.0)(14.63,-16.0)(14.70,-18.0)(14.76,-15.0)(14.82,-20.0)(14.89,-29.0)(14.95,-38.0)(15.01,-48.0)(15.08,-56.0)(15.14,-58.0)(15.20,-62.0)(15.27,-64.0)(15.30,-72.0)(15.33,-77.0)(15.36,-88.0)(15.39,-84.0)(15.43,-88.0)(15.46,-82.0)(15.50,-86.0)(15.52,-88.0)(15.56,-99.0)(15.61,-69.0)(15.66,-45.0)(15.71,-37.0)(15.77,-34.0)(15.84,-40.0)(15.90,-36.0)(15.96,-28.0)(16.00,-36.0)(16.03,-40.0)(16.09,-50.0)(16.15,-58.0)(16.22,-50.0)(16.28,-55.0)(16.35,-53.0)(16.41,-45.0)(16.48,-48.0)(16.54,-42.0)(16.60,-44.0)(16.66,-40.0)(16.70,-30.0)(16.74,-42.0)(16.79,-40.0)(16.86,-36.0)(16.92,-38.0)(16.98,-24.0)(17.04,-27.0)(17.11,-40.0)(17.17,-46.0)(17.23,-50.0)(17.27,-62.0)(17.30,-75.0)(17.33,-95.0)(17.36,-99.0)(17.39,-75.0)(17.44,-92.0)(17.49,-90.0)(17.55,-96.0)(17.61,-99.0)(17.65,-90.0)(17.68,-95.0)(17.71,-100.0)(17.74,-107.0)(17.78,-104.0)(17.82,-115.0)(17.86,-118.0)(17.90,-126.0)(17.93,-128.0)(17.96,-118.0)(18.00,-113.0)};
\addplot[zeroline] coordinates {(-1,0)(19,0)};
\node[letter] at (axis description cs:0.0284,0.62) {g};
\end{axis}
\end{tikzpicture}
\end{document}
